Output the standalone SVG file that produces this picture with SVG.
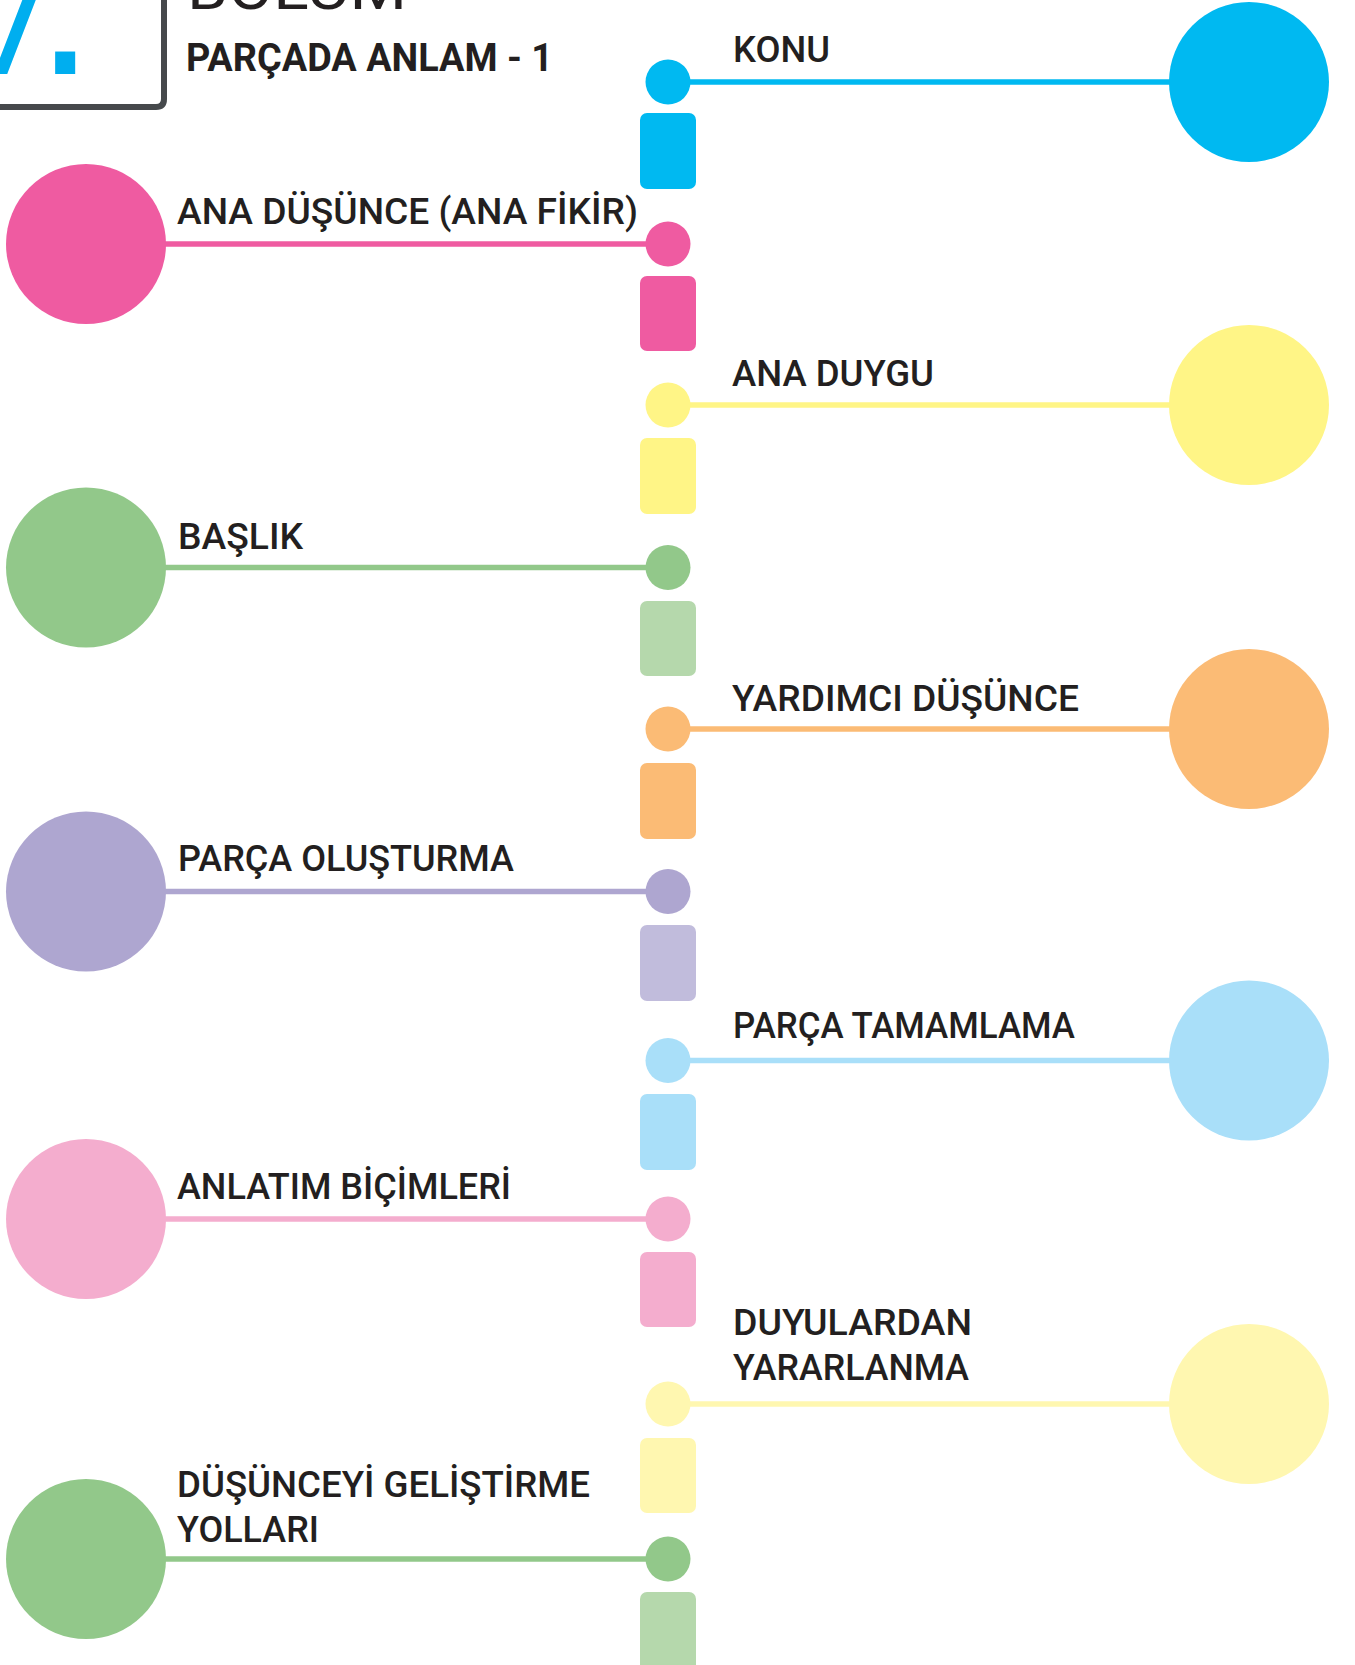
<svg xmlns="http://www.w3.org/2000/svg" width="1355" height="1665" viewBox="0 0 1355 1665">
  <style>
    .lbl { font-family: Roboto, "Liberation Sans", sans-serif; font-weight: 500; font-size: 36px; fill: #231F20; }
    .ttl { font-family: Roboto, "Liberation Sans", sans-serif; font-weight: 700; font-size: 39px; fill: #231F20; }
    .conn { stroke-width: 5.5; fill: none; }
  </style>
  <rect x="0" y="0" width="1355" height="1665" fill="#FFFFFF"/>

  <!-- header -->
  <g id="header">
    <path d="M -10 107 H 156 Q 164 107 164 99 V -10" fill="none" stroke="#46494C" stroke-width="6"/>
    <text fill="#00AEEF"><tspan x="-30" y="74" font-family="'DejaVu Sans', sans-serif" font-size="130">7</tspan><tspan x="36" y="74" font-family="'Liberation Sans', sans-serif" font-size="210">.</tspan></text>
    <text x="187" y="9" font-family="Roboto, 'Liberation Sans', sans-serif" font-size="60" fill="#231F20" textLength="220" lengthAdjust="spacingAndGlyphs">BÖLÜM</text>
    <text class="ttl" x="186" y="71" textLength="367" lengthAdjust="spacingAndGlyphs">PARÇADA ANLAM - 1</text>
  </g>

  <!-- connectors -->
  <g id="connectors" class="conn">
    <line x1="668" y1="82" x2="1249" y2="82" stroke="#00B9F1"/>
    <line x1="86" y1="244" x2="668" y2="244" stroke="#EF5BA1"/>
    <line x1="668" y1="405" x2="1249" y2="405" stroke="#FFF586"/>
    <line x1="86" y1="567.5" x2="668" y2="567.5" stroke="#92C88A"/>
    <line x1="668" y1="729" x2="1249" y2="729" stroke="#FBBB75"/>
    <line x1="86" y1="891.5" x2="668" y2="891.5" stroke="#AEA6D0"/>
    <line x1="668" y1="1060.5" x2="1249" y2="1060.5" stroke="#A9DFF9"/>
    <line x1="86" y1="1219" x2="668" y2="1219" stroke="#F4ADCE"/>
    <line x1="668" y1="1404" x2="1249" y2="1404" stroke="#FFF7B0"/>
    <line x1="86" y1="1559" x2="668" y2="1559" stroke="#92C88A"/>
  </g>

  <g id="konu">
    <circle cx="1249" cy="82" r="80" fill="#00B9F1"/>
    <circle cx="668" cy="82" r="22.5" fill="#00B9F1"/>
    <rect x="640" y="113" width="56" height="76" rx="7" fill="#00B9F1"/>
    <text class="lbl" x="733" y="62" textLength="97" lengthAdjust="spacingAndGlyphs">KONU</text>
  </g>

  <g id="ana-dusunce">
    <circle cx="86" cy="244" r="80" fill="#EF5BA1"/>
    <circle cx="668" cy="244" r="22.5" fill="#EF5BA1"/>
    <rect x="640" y="276" width="56" height="75" rx="7" fill="#EF5BA1"/>
    <text class="lbl" x="177" y="224" textLength="461" lengthAdjust="spacingAndGlyphs">ANA DÜŞÜNCE (ANA FİKİR)</text>
  </g>

  <g id="ana-duygu">
    <circle cx="1249" cy="405" r="80" fill="#FFF586"/>
    <circle cx="668" cy="405" r="22.5" fill="#FFF586"/>
    <rect x="640" y="438" width="56" height="76" rx="7" fill="#FFF586"/>
    <text class="lbl" x="732" y="386" textLength="202" lengthAdjust="spacingAndGlyphs">ANA DUYGU</text>
  </g>

  <g id="baslik">
    <circle cx="86" cy="567.5" r="80" fill="#92C88A"/>
    <circle cx="668" cy="567.5" r="22.5" fill="#92C88A"/>
    <rect x="640" y="601" width="56" height="75" rx="7" fill="#B5D8AC"/>
    <text class="lbl" x="178" y="549" textLength="125" lengthAdjust="spacingAndGlyphs">BAŞLIK</text>
  </g>

  <g id="yardimci-dusunce">
    <circle cx="1249" cy="729" r="80" fill="#FBBB75"/>
    <circle cx="668" cy="729" r="22.5" fill="#FBBB75"/>
    <rect x="640" y="763" width="56" height="76" rx="7" fill="#FBBB75"/>
    <text class="lbl" x="732" y="711" textLength="347" lengthAdjust="spacingAndGlyphs">YARDIMCI DÜŞÜNCE</text>
  </g>

  <g id="parca-olusturma">
    <circle cx="86" cy="891.5" r="80" fill="#AEA6D0"/>
    <circle cx="668" cy="891.5" r="22.5" fill="#AEA6D0"/>
    <rect x="640" y="925" width="56" height="76" rx="7" fill="#C1BCDC"/>
    <text class="lbl" x="178" y="871" textLength="336" lengthAdjust="spacingAndGlyphs">PARÇA OLUŞTURMA</text>
  </g>

  <g id="parca-tamamlama">
    <circle cx="1249" cy="1060.5" r="80" fill="#A9DFF9"/>
    <circle cx="668" cy="1060.5" r="22.5" fill="#A9DFF9"/>
    <rect x="640" y="1094" width="56" height="76" rx="7" fill="#A9DFF9"/>
    <text class="lbl" x="733" y="1038" textLength="342" lengthAdjust="spacingAndGlyphs">PARÇA TAMAMLAMA</text>
  </g>

  <g id="anlatim-bicimleri">
    <circle cx="86" cy="1219" r="80" fill="#F4ADCE"/>
    <circle cx="668" cy="1219" r="22.5" fill="#F4ADCE"/>
    <rect x="640" y="1252" width="56" height="75" rx="7" fill="#F4ADCE"/>
    <text class="lbl" x="177" y="1199" textLength="334" lengthAdjust="spacingAndGlyphs">ANLATIM BİÇİMLERİ</text>
  </g>

  <g id="duyulardan-yararlanma">
    <circle cx="1249" cy="1404" r="80" fill="#FFF7B0"/>
    <circle cx="668" cy="1404" r="22.5" fill="#FFF7B0"/>
    <rect x="640" y="1438" width="56" height="75" rx="7" fill="#FFF7B0"/>
    <text class="lbl" x="733" y="1335" textLength="239" lengthAdjust="spacingAndGlyphs">DUYULARDAN</text>
    <text class="lbl" x="733" y="1380" textLength="236" lengthAdjust="spacingAndGlyphs">YARARLANMA</text>
  </g>

  <g id="dusunceyi-gelistirme">
    <circle cx="86" cy="1559" r="80" fill="#92C88A"/>
    <circle cx="668" cy="1559" r="22.5" fill="#92C88A"/>
    <rect x="640" y="1592" width="56" height="90" rx="7" fill="#B5D8AC"/>
    <text class="lbl" x="177" y="1497" textLength="413" lengthAdjust="spacingAndGlyphs">DÜŞÜNCEYİ GELİŞTİRME</text>
    <text class="lbl" x="177" y="1542" textLength="142" lengthAdjust="spacingAndGlyphs">YOLLARI</text>
  </g>
</svg>
